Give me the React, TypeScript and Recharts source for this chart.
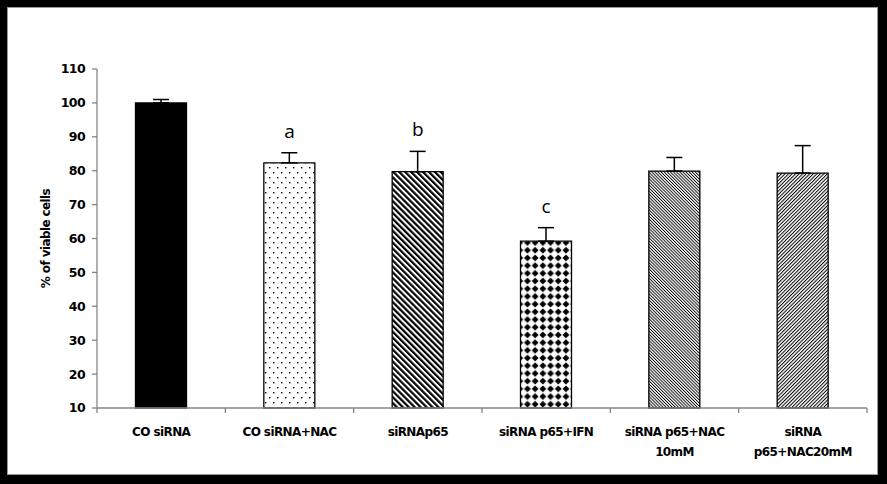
import React from 'react';
import {
    ComposedChart,
    Bar,
    Cell,
    Line,
    XAxis,
    YAxis,
    ErrorBar,
    LabelList,
    Label,
} from 'recharts';

// groups on the x axis ("\n" = line break in the tick label)
const groups = [
    'CO siRNA',
    'CO siRNA+NAC',
    'siRNAp65',
    'siRNA p65+IFN',
    'siRNA p65+NAC\n10mM',
    'siRNA\np65+NAC20mM',
];
const viable = [100, 82.3, 79.7, 59.2, 79.9, 79.3];
const sdUp = [1, 3.0, 6.0, 4.0, 4.0, 8.1];
const letters = ['', 'a', 'b', 'c', '', ''];
const yTicks = [10, 20, 30, 40, 50, 60, 70, 80, 90, 100, 110];
const fills = ['#000000', 'url(#dots)', 'url(#wideDown)', 'url(#diamonds)', 'url(#narrowDown)', 'url(#narrowUp)'];

const data = groups.map((name, i) => ({
    name,
    viable: viable[i],
    err: [0, sdUp[i]],
    top: viable[i] + sdUp[i],
    letter: letters[i],
}));

const AXIS_GREY = '#868686';
const FONT = '"DejaVu Sans", Verdana, sans-serif';

// tick label plus the Excel-style tick marks between categories
const GroupTick = (props: any) => {
    const { x, y, payload, index, visibleTicksCount } = props;
    const half = payload.offset || 0;
    const lines = String(payload.value).split('\n');
    const isLast = index === (visibleTicksCount ?? groups.length) - 1;
    return (
        <g>
            <line x1={x - half} x2={x - half} y1={y} y2={y + 5} stroke={AXIS_GREY} strokeWidth={1.3} />
            {isLast && <line x1={x + half} x2={x + half} y1={y} y2={y + 5} stroke={AXIS_GREY} strokeWidth={1.3} />}
            {lines.map((ln, k) => (
                <text
                    key={k}
                    x={x}
                    y={y + 28 + k * 20}
                    textAnchor="middle"
                    fontFamily={FONT}
                    fontWeight="bold"
                    fontSize={12}
                    letterSpacing={-0.6}
                    fill="#000"
                >
                    {ln}
                </text>
            ))}
        </g>
    );
};

const Patterns = () => (
    <svg width={0} height={0} style={{ position: 'absolute' }}>
        <defs>
            <pattern id="dots" width={8} height={10} patternUnits="userSpaceOnUse">
                <rect width={8} height={10} fill="#fff" />
                <rect x={1} y={2} width={1.4} height={1.4} fill="#000" />
                <rect x={5} y={7} width={1.4} height={1.4} fill="#000" />
            </pattern>
            <pattern id="wideDown" width={4.2} height={4.2} patternUnits="userSpaceOnUse" patternTransform="rotate(-45)">
                <rect width={4.2} height={4.2} fill="#fff" />
                <rect width={2.2} height={4.2} fill="#000" />
            </pattern>
            <pattern id="diamonds" width={7.7} height={7.7} patternUnits="userSpaceOnUse">
                <rect width={7.7} height={7.7} fill="#fff" />
                <polygon points="3.85,0.4 7.3,3.85 3.85,7.3 0.4,3.85" fill="#000" />
            </pattern>
            <pattern id="narrowDown" width={2.2} height={2.2} patternUnits="userSpaceOnUse" patternTransform="rotate(-45)">
                <rect width={2.2} height={2.2} fill="#fff" />
                <rect width={0.9} height={2.2} fill="#000" />
            </pattern>
            <pattern id="narrowUp" width={2.5} height={2.5} patternUnits="userSpaceOnUse" patternTransform="rotate(45)">
                <rect width={2.5} height={2.5} fill="#fff" />
                <rect width={1} height={2.5} fill="#000" />
            </pattern>
        </defs>
    </svg>
);

const App: React.FC = () => {
    return (
        <div style={{ position: 'absolute', left: 0, top: 0, width: 887, height: 484, background: '#000' }}>
            <Patterns />
            <div
                style={{
                    position: 'absolute',
                    left: 7,
                    top: 7,
                    width: 869,
                    height: 466,
                    background: '#fff',
                    border: '1px solid #9a9a9a',
                }}
            />
            <div style={{ position: 'absolute', left: 0, top: 0 }}>
                <ComposedChart
                    width={887}
                    height={484}
                    data={data}
                    margin={{ top: 69, right: 20, left: 0, bottom: 0 }}
                    barCategoryGap="30%"
                >
                    <XAxis
                        dataKey="name"
                        height={76}
                        axisLine={{ stroke: AXIS_GREY, strokeWidth: 1.3 }}
                        tickLine={false}
                        tickSize={0}
                        tickMargin={0}
                        interval={0}
                        tick={<GroupTick />}
                    />
                    <YAxis
                        width={97}
                        domain={[10, 110]}
                        ticks={yTicks}
                        interval={0}
                        tickSize={5}
                        tickMargin={7}
                        stroke={AXIS_GREY}
                        axisLine={{ stroke: AXIS_GREY, strokeWidth: 1.3 }}
                        tickLine={{ stroke: AXIS_GREY, strokeWidth: 1.3 }}
                        tick={{ fill: '#000', fontFamily: FONT, fontWeight: 'bold', fontSize: 12.5, letterSpacing: -0.6 }}
                    >
                        <Label
                            value="% of viable cells"
                            angle={-90}
                            position="center"
                            dx={-3}
                            style={{ fill: '#000', fontFamily: FONT, fontWeight: 'bold', fontSize: 12, letterSpacing: -0.6 }}
                        />
                    </YAxis>
                    <Bar dataKey="viable" stroke="#000" strokeWidth={1.3} isAnimationActive={false}>
                        {data.map((d, i) => (
                            <Cell key={d.name} fill={fills[i]} />
                        ))}
                        <ErrorBar dataKey="err" direction="y" width={8} stroke="#000" strokeWidth={1.5} />
                    </Bar>
                    <Line
                        dataKey="top"
                        stroke="none"
                        dot={false}
                        activeDot={false}
                        isAnimationActive={false}
                    >
                        <LabelList
                            dataKey="letter"
                            position="top"
                            offset={15}
                            style={{ fill: '#000', fontFamily: '"Open Sans", sans-serif', fontSize: 19 }}
                        />
                    </Line>
                </ComposedChart>
            </div>
        </div>
    );
};

export default App;
